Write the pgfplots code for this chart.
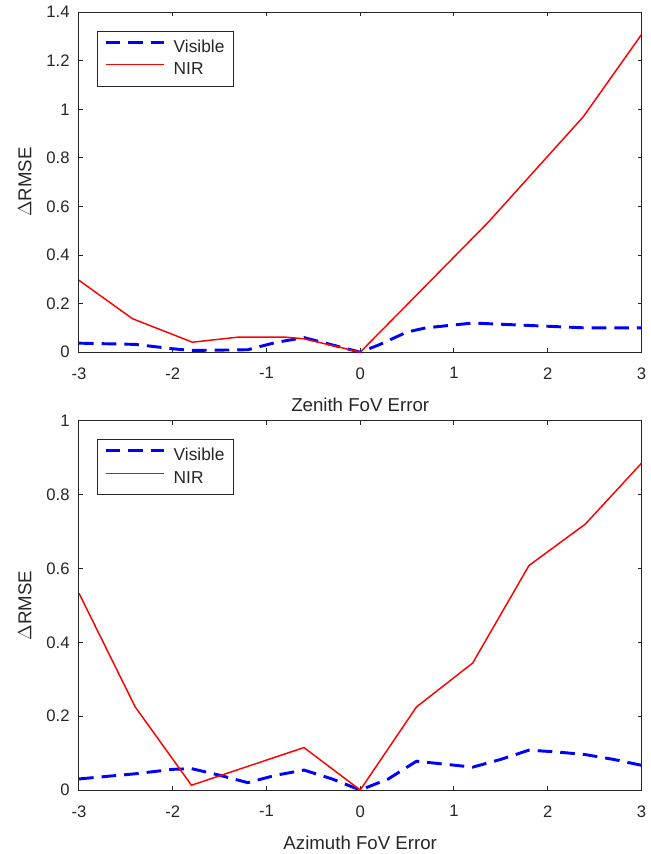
\documentclass[border=0pt]{standalone}
\usepackage{pgfplots}
\pgfplotsset{compat=1.18}
\usepackage{fontspec}
\setmainfont{Liberation Sans}
\definecolor{axgray}{gray}{0.15}
\definecolor{lblgray}{gray}{0.15}
\begin{document}
\begin{tikzpicture}
\pgfplotsset{
  mystyle/.style={
    scale only axis,
    width=422pt,
    xmin=-3, xmax=3,
    xtick={-3,-2,-1,0,1,2,3},
    tick align=inside,
    axis line style={axgray, line width=0.75pt},
    tick style={axgray, line width=0.75pt},
    major tick length=2.8pt,
    ticklabel style={font=\fontsize{12.5}{14}\selectfont, text=lblgray},
    xticklabel style={yshift=-8pt},
    yticklabel style={xshift=-3.5pt},
    label style={font=\fontsize{14}{16}\selectfont, text=lblgray},
    xlabel style={at={(axis description cs:0.5,0)}, anchor=base, yshift=-44.5pt},
    ylabel style={at={(axis description cs:-0.096,0.5)}, anchor=center},
    /pgf/number format/assume math mode=true,
    ylabel={$\Delta$RMSE},
    legend style={at={(axis description cs:0,1)}, anchor=north west, xshift=13.5pt, yshift=-14pt,
      draw=axgray, line width=0.75pt, text=lblgray,
      font=\fontsize{13}{15}\selectfont, inner xsep=5pt, inner ysep=3.5pt, row sep=0pt,
      nodes={inner xsep=2pt, inner ysep=2pt, text height=10pt, text depth=3pt}},
    legend cell align=left,
    legend image code/.code={\draw[##1] (0pt,4pt) -- (44pt,4pt); \path (48pt,4pt);},
  },
  vis/.style={blue, line width=2.2pt, dash pattern=on 11pt off 6pt},
  nir/.style={red, line width=1.1pt},
}
\path[use as bounding box] (-59.25pt,-48pt) rectangle (428.75pt,592.7pt);
\begin{axis}[mystyle, at={(0,328.5pt)}, height=255pt,
  ymin=0, ymax=1.4, ytick={0,0.2,0.4,0.6,0.8,1,1.2,1.4},
  xlabel={Zenith FoV Error}]
\addplot[vis] coordinates {(-3,0.037) (-2.4,0.032) (-2,0.014) (-1.8,0.007) (-1.2,0.01) (-0.9,0.04) (-0.6,0.06) (-0.4,0.04) (0,0) (0.2,0.03) (0.5,0.083) (0.7,0.10) (1.2,0.12) (1.8,0.11) (2.4,0.10) (3,0.10)};
\addlegendentry{Visible}
\addplot[nir] coordinates {(-3,0.296) (-2.43,0.138) (-1.79,0.041) (-1.3,0.062) (-0.8,0.062) (-0.6,0.055) (0,0) (0.44,0.172) (1.37,0.537) (2.38,0.97) (3,1.308)};
\addlegendentry{NIR}
\end{axis}
\begin{axis}[mystyle, at={(0,0)}, height=277pt,
  ymin=0, ymax=1, ytick={0,0.2,0.4,0.6,0.8,1},
  xlabel={Azimuth FoV Error}]
\addplot[vis] coordinates {(-3,0.03) (-2.4,0.044) (-2,0.056) (-1.8,0.058) (-1.5,0.04) (-1.2,0.02) (-0.9,0.04) (-0.6,0.054) (-0.3,0.03) (0,0) (0.3,0.03) (0.6,0.078) (0.9,0.07) (1.2,0.062) (1.5,0.083) (1.8,0.108) (2.1,0.103) (2.4,0.096) (2.7,0.083) (3,0.067)};
\addlegendentry{Visible}
\addplot[nir] coordinates {(-3,0.533) (-2.4,0.225) (-1.8,0.013) (-1.2,0.064) (-0.6,0.115) (0,0) (0.6,0.225) (1.2,0.344) (1.8,0.608) (2.4,0.72) (3,0.885)};
\addlegendentry{NIR}
\end{axis}
\end{tikzpicture}
\end{document}
